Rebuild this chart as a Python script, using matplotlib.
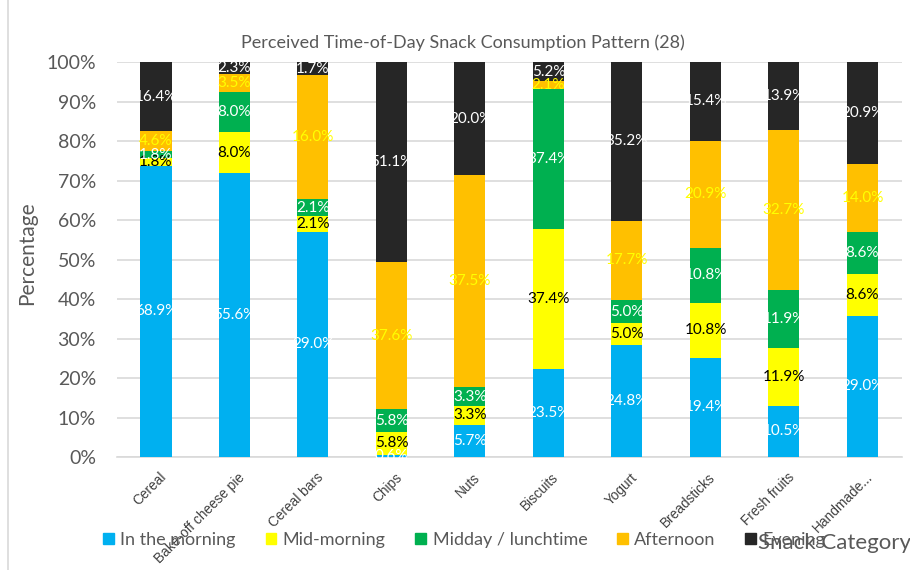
import matplotlib.pyplot as plt
import matplotlib.transforms as mtransforms
import numpy as np
from matplotlib import font_manager
from matplotlib.lines import Line2D
from matplotlib.patches import Patch

plt.rcParams["font.family"] = ["Lato", "DejaVu Sans"]

categories = ["Cereal", "Bake-off cheese pie", "Cereal bars", "Chips", "Nuts",
              "Biscuits", "Yogurt", "Breadsticks", "Fresh fruits", "Handmade..."]
series_names = ["In the morning", "Mid-morning", "Midday / lunchtime", "Afternoon", "Evening"]

morning = [68.9, 55.6, 29.0, 0.6, 5.7, 23.5, 24.8, 19.4, 10.5, 29.0]
mid_morning = [1.8, 8.0, 2.1, 5.8, 3.3, 37.4, 5.0, 10.8, 11.9, 8.6]
midday = [1.8, 8.0, 2.1, 5.8, 3.3, 37.4, 5.0, 10.8, 11.9, 8.6]
afternoon = [4.6, 3.5, 16.0, 37.6, 37.5, 2.1, 17.7, 20.9, 32.7, 14.0]
evening = [16.4, 2.3, 1.7, 51.1, 20.0, 5.2, 35.2, 15.4, 13.9, 20.9]

colors = ["#00B0F0", "#FFFF00", "#00B050", "#FFC000", "#262626"]
label_colors = ["white", "black", "white", "#FFFF00", "white"]

# bars are drawn as 100% stacks, labels keep the raw values
values = np.array([morning, mid_morning, midday, afternoon, evening])
shares = values / values.sum(axis=0)

installed = {f.name for f in font_manager.fontManager.ttflist}
narrow = "Liberation Sans Narrow" if "Liberation Sans Narrow" in installed else "Liberation Sans"

fig = plt.figure(figsize=(9.1, 5.7), dpi=100)
ax = fig.add_axes([0.1283, 0.1982, 0.8626, 0.693])

x = np.arange(len(categories))
bottom = np.zeros(len(categories))
for i, name in enumerate(series_names):
    ax.bar(x, shares[i], 0.395, bottom=bottom, color=colors[i], label=name, zorder=3)
    for j in range(len(categories)):
        ax.text(x[j], bottom[j] + shares[i][j] / 2, f"{values[i][j]:.1f}%",
                ha="center", va="center", fontsize=11, color=label_colors[i], zorder=4)
    bottom += shares[i]

ax.set_xlim(-0.5, len(categories) - 0.5)
ax.set_ylim(0, 1)
ticks = np.arange(0, 1.01, 0.1)
ax.set_yticks(ticks)
ax.set_yticklabels([f"{int(round(v * 100))}%" for v in ticks])
ax.yaxis.grid(True, color="#D9D9D9", linewidth=1.2, zorder=0)
ax.tick_params(axis="y", length=0, pad=15, labelsize=14, labelcolor="#595959")
ax.tick_params(axis="x", length=0, pad=13)
ax.set_xticks(x)
ax.set_xticklabels(categories, rotation=45, ha="right", va="center", rotation_mode="anchor",
                   fontsize=9.8, color="#404040", family=[narrow, "DejaVu Sans"])
shift = mtransforms.ScaledTranslation(8 / 100, 0, fig.dpi_scale_trans)
for lbl in ax.get_xticklabels():
    lbl.set_transform(lbl.get_transform() + shift)
for s in ["top", "right", "left"]:
    ax.spines[s].set_visible(False)
ax.spines["bottom"].set_color("#D9D9D9")
ax.spines["bottom"].set_linewidth(1.2)

ax.set_ylabel("Percentage", fontsize=15, color="#595959")
ax.yaxis.set_label_coords(-0.102, 0.516)
fig.text(463 / 910, 1 - 43 / 570, "Perceived Time-of-Day Snack Consumption Pattern (28)",
         ha="center", va="center", fontsize=13, color="#595959")
fig.text(758 / 910, 1 - 543 / 570, "Snack Category", ha="left", va="center",
         fontsize=16, color="#595959")

handles = [Patch(color=c) for c in colors]
fig.legend(handles, series_names, loc="center left", bbox_to_anchor=(96 / 910, 1 - 540 / 570),
           ncol=5, frameon=False, fontsize=13, handlelength=0.6, handleheight=0.6,
           handletextpad=0.35, columnspacing=1.65, labelcolor="#595959", borderaxespad=0)

fig.add_artist(Line2D([8 / 910, 8 / 910], [0, 1], color="#D9D9D9", linewidth=1.2))

fig.savefig("out.png", dpi=100)
